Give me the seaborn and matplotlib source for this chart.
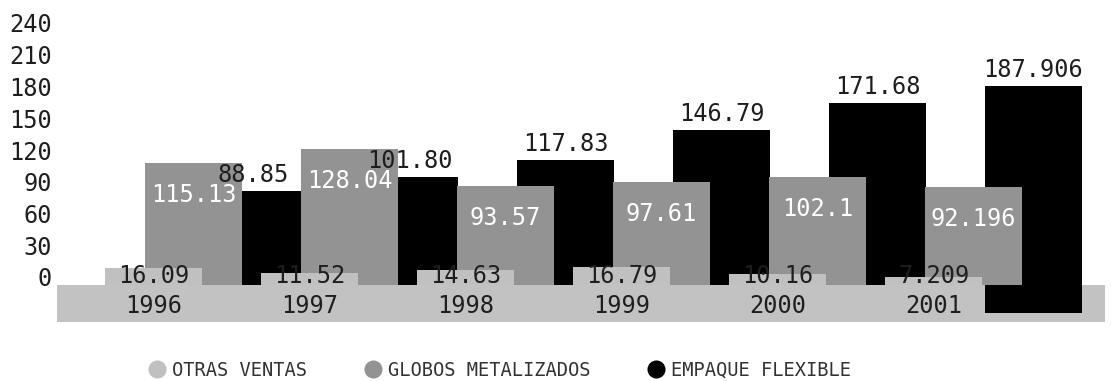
import matplotlib
matplotlib.use("Agg")
import numpy as np
import pandas as pd
import seaborn as sns
import matplotlib.pyplot as plt
from matplotlib.lines import Line2D
from matplotlib.transforms import ScaledTranslation

# ---- data ----
years = ["1996", "1997", "1998", "1999", "2000", "2001"]
otras_text = ["16.09", "11.52", "14.63", "16.79", "10.16", "7.209"]
globos_text = ["115.13", "128.04", "93.57", "97.61", "102.1", "92.196"]
empaque_text = ["88.85", "101.80", "117.83", "146.79", "171.68", "187.906"]
series_names = ["OTRAS VENTAS", "GLOBOS METALIZADOS", "EMPAQUE FLEXIBLE"]
y_ticks = [0, 30, 60, 90, 120, 150, 180, 210, 240]

otras = [float(t) for t in otras_text]
globos = [float(t) for t in globos_text]
empaque = [float(t) for t in empaque_text]

# ---- style ----
sns.set_theme(style="white")
plt.rcParams["font.family"] = ["DejaVu Sans Mono"]

C_LIGHT = "#c0c0c0"
C_MID = "#939393"
C_DARK = "#000000"
C_FLOOR = "#c2c2c2"
TXT = "#1e1e1e"

BAR_W = 0.622
OFFSETS = {"otras": 0.0, "globos": 0.256, "empaque": 0.641}
FLOOR_DEPTH = 35.0
LAST_DROP = 26.5

idx = np.arange(len(years))
df = pd.DataFrame({
    "year": years * 3,
    "serie": ["otras"] * 6 + ["globos"] * 6 + ["empaque"] * 6,
    "valor": otras + globos + empaque,
})
df["pos"] = np.tile(idx, 3) + df["serie"].map(OFFSETS)

fig = plt.figure(figsize=(11.11, 3.81), dpi=100)
ax = fig.add_axes([57 / 1111, 0, 1054 / 1111, 1])

# floor band under the bars
ax.axhspan(-FLOOR_DEPTH, 0, xmin=0, xmax=0.9943, color=C_FLOOR, lw=0, zorder=0.5)

# back to front: empaque, globos, otras
for key, color in [("empaque", C_DARK), ("globos", C_MID), ("otras", C_LIGHT)]:
    n_before = len(ax.patches)
    sub = df[df["serie"] == key]
    sns.barplot(data=sub, x="pos", y="valor", native_scale=True, orient="x",
                width=BAR_W, color=color, saturation=1, errorbar=None,
                linewidth=0, ax=ax)
    if key == "empaque":
        new = ax.patches[n_before:]
        last = max(new, key=lambda p: p.get_x())
        last.set_y(-LAST_DROP)
        last.set_height(last.get_height() + LAST_DROP)

# value labels
for i in idx:
    xo = i + OFFSETS["otras"]
    xg = i + OFFSETS["globos"]
    xe = i + OFFSETS["empaque"]
    ax.annotate(otras_text[i], (xo, 0), xytext=(0, 2), textcoords="offset pixels",
                ha="center", va="baseline", fontsize=17, color=TXT, zorder=5)
    ax.annotate(years[i], (xo, 0), xytext=(0, -28), textcoords="offset pixels",
                ha="center", va="baseline", fontsize=17, color=TXT, zorder=5)
    ax.annotate(globos_text[i], (xg, globos[i]), xytext=(0, -20),
                textcoords="offset pixels", ha="center", va="top",
                fontsize=17, color="white", zorder=5)
    ax.annotate(empaque_text[i], (xe, empaque[i]), xytext=(0, 4),
                textcoords="offset pixels", ha="center", va="bottom",
                fontsize=17, color=TXT, zorder=5)

# axes
ax.set_xlim((57 - 153.5) / 156, (1111 - 153.5) / 156)
k = 31.75 / 30
ax.set_ylim(-(381 - 285) / k, 285 / k)
ax.set_yticks(y_ticks)
ax.set_yticklabels([str(t) for t in y_ticks])
ax.set_xticks([])
ax.set_xlabel("")
ax.set_ylabel("")
ax.tick_params(axis="y", length=0, pad=3.6, labelsize=17, labelcolor=TXT)
for s in ax.spines.values():
    s.set_visible(False)
shift = ScaledTranslation(0, 8 / 100, fig.dpi_scale_trans)
for lab in ax.get_yticklabels():
    lab.set_transform(lab.get_transform() + shift)

# legend
handles = [Line2D([], [], ls="", marker="o", markersize=13, markeredgewidth=0,
                  markerfacecolor=c) for c in (C_LIGHT, C_MID, C_DARK)]
fig.legend(handles, series_names, loc="center left",
           bbox_to_anchor=(147.6 / 1111, 11 / 381), ncol=3, frameon=False,
           fontsize=13.5, handlelength=1.0, handletextpad=0.3,
           columnspacing=3.0, borderpad=0, borderaxespad=0, labelcolor="#333333")

fig.savefig("out.png", dpi=100)
